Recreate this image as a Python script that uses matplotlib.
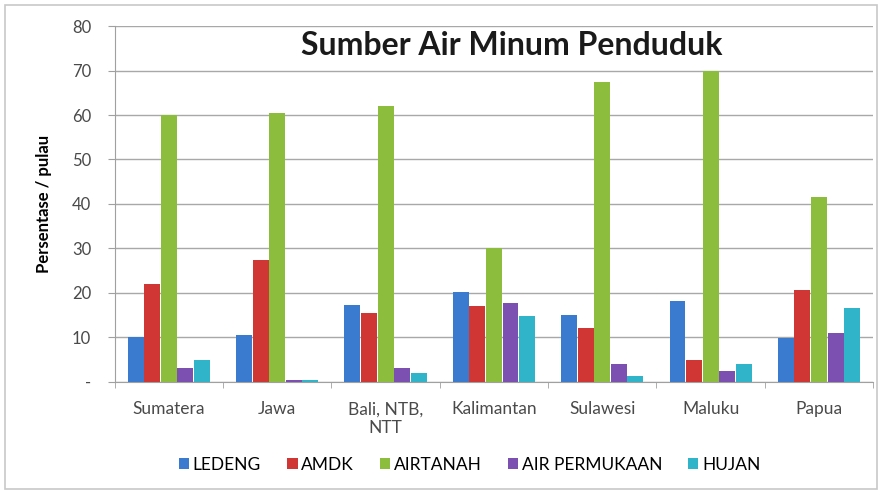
import numpy as np
import matplotlib.pyplot as plt
from matplotlib.patches import Rectangle

plt.rcParams['font.family'] = ['Lato', 'DejaVu Sans']

# data
pulau = ['Sumatera', 'Jawa', 'Bali, NTB,\nNTT', 'Kalimantan', 'Sulawesi', 'Maluku', 'Papua']
ledeng = [10.0, 10.5, 17.2, 20.3, 15.0, 18.1, 9.9]
amdk = [22.0, 27.5, 15.5, 17.0, 12.0, 5.0, 20.6]
airtanah = [60.0, 60.5, 62.0, 30.0, 67.5, 69.8, 41.5]
air_permukaan = [3.0, 0.3, 3.0, 17.8, 4.0, 2.5, 11.0]
hujan = [5.0, 0.5, 2.0, 14.7, 1.2, 4.0, 16.6]

seri = [
    ('LEDENG', ledeng, '#3a7bd0'),
    ('AMDK', amdk, '#cf3634'),
    ('AIRTANAH', airtanah, '#8cbd3c'),
    ('AIR PERMUKAAN', air_permukaan, '#7b50b0'),
    ('HUJAN', hujan, '#2fb4ca'),
]

fig = plt.figure(figsize=(8.82, 4.92), dpi=100)
fig.patches.append(Rectangle((0.006, 0.006), 0.988, 0.984, transform=fig.transFigure,
                             fill=False, edgecolor='#c8c8c8', linewidth=1.2))
ax = fig.add_axes([0.130, 0.224, 0.860, 0.723])

x = np.arange(len(pulau))
w = 0.153
for i, (nama, nilai, warna) in enumerate(seri):
    ax.bar(x + (i - 2) * w, nilai, width=w * 0.96, color=warna, label=nama, zorder=3)

ax.set_xlim(-0.5, len(pulau) - 0.5)
ax.set_ylim(0, 80)
ax.set_yticks(range(0, 81, 10))
ax.set_yticklabels(['-'] + [str(v) for v in range(10, 81, 10)], fontsize=12, color='#4a4a4a')
ax.yaxis.grid(True, color='#a8a8a8', linewidth=1, zorder=0)
ax.set_xticks(x)
ax.set_xticklabels(pulau, fontsize=12.5, color='#4a4a4a')
ax.set_xticks(np.arange(-0.5, len(pulau), 1), minor=True)
ax.tick_params(axis='x', which='major', length=0, pad=14)
ax.tick_params(axis='x', which='minor', length=4, color='#a0a0a0')
ax.tick_params(axis='y', length=5, color='#a0a0a0', pad=12)

for s in ['top', 'right']:
    ax.spines[s].set_visible(False)
ax.spines['left'].set_color('#a0a0a0')
ax.spines['bottom'].set_color('#a0a0a0')

ax.set_ylabel('Persentase / pulau', fontsize=12, fontweight='bold', labelpad=14)

ax.text(0.524, 0.945, 'Sumber Air Minum Penduduk', transform=ax.transAxes,
        ha='center', va='center', fontsize=23, fontweight='bold', color='#1a1a1a', zorder=5)

ax.legend(loc='center', bbox_to_anchor=(0.468, -0.233), ncol=5, frameon=False,
          fontsize=12.5, handlelength=0.6, handleheight=0.6, handletextpad=0.2,
          columnspacing=1.5)

fig.savefig('out.png', dpi=100)
